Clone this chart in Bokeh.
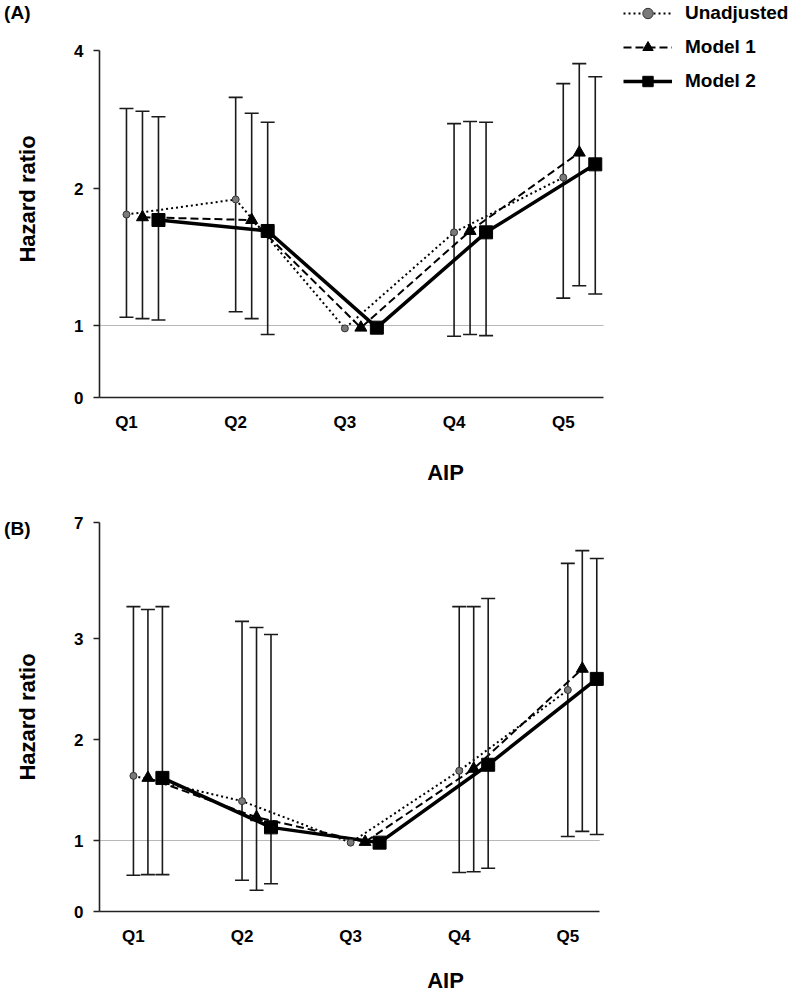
import numpy as np
from bokeh.plotting import figure
from bokeh.models import (Range1d, FixedTicker, Legend, LegendItem, LinearAxis)
from bokeh.layouts import column
from bokeh.embed import file_html
from bokeh.resources import INLINE

# ---------------- data ----------------
CATEGORIES = ["Q1", "Q2", "Q3", "Q4", "Q5"]
SERIES = ["Unadjusted", "Model 1", "Model 2"]
NA = float("nan")

# Panel (A)
A_TICKS = [0, 1, 2, 4]
A_UNADJ_HR = [1.81, 1.92, 0.96, 1.68, 2.16]
A_UNADJ_LO = [1.06, 1.10, NA, 0.85, 1.20]
A_UNADJ_HI = [3.16, 3.32, NA, 2.94, 3.52]
A_M1_HR = [1.79, 1.77, 0.97, 1.69, 2.52]
A_M1_LO = [1.05, 1.05, NA, 0.875, 1.29]
A_M1_HI = [3.12, 3.09, NA, 2.97, 3.81]
A_M2_HR = [1.77, 1.69, 0.97, 1.68, 2.35]
A_M2_LO = [1.04, 0.875, NA, 0.86, 1.23]
A_M2_HI = [3.04, 2.96, NA, 2.96, 3.62]

# Panel (B)
B_TICKS = [0, 1, 2, 3, 7]
B_UNADJ_HR = [1.64, 1.39, 0.97, 1.69, 2.49]
B_UNADJ_LO = [0.51, 0.44, NA, 0.55, 1.04]
B_UNADJ_HI = [4.10, 3.59, NA, 4.10, 5.59]
B_M1_HR = [1.62, 1.23, 0.98, 1.71, 2.70]
B_M1_LO = [0.52, 0.30, NA, 0.56, 1.09]
B_M1_HI = [4.00, 3.38, NA, 4.10, 6.03]
B_M2_HR = [1.62, 1.13, 0.97, 1.75, 2.60]
B_M2_LO = [0.52, 0.39, NA, 0.61, 1.06]
B_M2_HI = [4.10, 3.14, NA, 4.38, 5.76]

# ------------- axis scale geometry (non-uniform tick spacing, px from axis bottom) -------------
A_TICK_PX = [0, 72, 209, 347]
B_TICK_PX = [0, 71, 172, 273, 389]

FONT = "Liberation Sans"
W = 791

STYLES = [
    dict(marker="circle", size=7, fill="#7a7a7a", line="#333333", dash="2 3", lw=2.0),
    dict(marker="triangle", size=12, fill="black", line="black", dash="8 4", lw=2.0),
    dict(marker="square", size=13, fill="black", line="black", dash="solid", lw=3.5),
]


def make_panel(tag, ticks, tick_px, series, x_start, x_axis_end, group_px, offset,
               height, mbl, mbt, frame_h, tag_y, aip_standoff, legend_loc=None):
    frame_w = W - mbl
    x_end = x_start + frame_w / group_px
    mbb = height - mbt - frame_h
    p = figure(width=W, height=height, output_backend="svg", toolbar_location=None,
               x_range=Range1d(x_start, x_end), y_range=Range1d(0, frame_h),
               min_border_left=mbl, min_border_right=0,
               min_border_top=mbt, min_border_bottom=mbb)
    p.grid.visible = False
    p.outline_line_color = None

    def tr(vals):
        return [float(np.interp(v, ticks, tick_px)) if not np.isnan(v) else NA for v in vals]

    # reference line at HR = 1, spanning the drawn x axis
    y_one = float(np.interp(1, ticks, tick_px))
    p.segment(x0=[x_start], x1=[x_axis_end], y0=[y_one], y1=[y_one],
              line_color="#b8b8b8", line_width=1)

    line_rs = []
    for k, (hr, lo, hi) in enumerate(series):
        st = STYLES[k]
        xs = [i + k * offset for i in range(len(CATEGORIES))]
        ylo, yhi, yhr = tr(lo), tr(hi), tr(hr)
        ex = [x for x, a in zip(xs, ylo) if not np.isnan(a)]
        elo = [a for a in ylo if not np.isnan(a)]
        ehi = [a for a in yhi if not np.isnan(a)]
        p.segment(x0=ex, y0=elo, x1=ex, y1=ehi, line_color="#1a1a1a", line_width=1.6)
        p.scatter(x=ex, y=elo, marker="dash", size=14, line_color="#1a1a1a", line_width=1.6)
        p.scatter(x=ex, y=ehi, marker="dash", size=14, line_color="#1a1a1a", line_width=1.6)
        lr = p.line(x=xs, y=yhr, line_color="black", line_width=st["lw"], line_dash=st["dash"])
        line_rs.append((lr, xs, yhr))
    items = []
    for k, name in enumerate(SERIES):
        st = STYLES[k]
        lr, xs, yhr = line_rs[k]
        mr = p.scatter(x=xs, y=yhr, marker=st["marker"], size=st["size"],
                       fill_color=st["fill"], line_color=st["line"], line_width=1)
        items.append(LegendItem(label=name, renderers=[lr, mr]))

    # x axis
    xa = p.xaxis[0]
    xa.bounds = (x_start, x_axis_end)
    xa.ticker = FixedTicker(ticks=list(range(len(CATEGORIES))))
    xa.major_label_overrides = {i: c for i, c in enumerate(CATEGORIES)}
    xa.major_tick_line_color = None
    xa.major_tick_out = 0
    xa.minor_tick_line_color = None
    xa.major_label_standoff = 15
    xa.axis_line_width = 1.6
    xa.axis_line_color = "#222222"
    xa.axis_label = "AIP"
    xa.axis_label_standoff = aip_standoff

    # y axis
    ya = p.yaxis[0]
    ya.bounds = (0, tick_px[-1])
    ya.ticker = FixedTicker(ticks=list(tick_px))
    ya.major_label_overrides = {px: str(v) for px, v in zip(tick_px, ticks)}
    ya.major_tick_out = 6
    ya.major_tick_in = 0
    ya.minor_tick_line_color = None
    ya.major_tick_line_width = 1.6
    ya.major_label_standoff = 10
    ya.axis_line_width = 1.6
    ya.axis_line_color = "#222222"
    ya.major_tick_line_color = "#222222"
    ya.axis_label = "Hazard ratio"
    ya.axis_label_standoff = 31

    for ax in (xa, ya):
        ax.major_label_text_font = FONT
        ax.major_label_text_font_style = "bold"
        ax.major_label_text_font_size = "17px"
        ax.major_label_text_color = "black"
        ax.axis_label_text_font = FONT
        ax.axis_label_text_font_style = "bold"
        ax.axis_label_text_font_size = "22px"
        ax.axis_label_text_color = "black"

    # panel tag "(A)" / "(B)" placed in the left border through an extra label-only axis
    tag_axis = LinearAxis(ticker=FixedTicker(ticks=[tag_y]),
                          major_label_overrides={tag_y: tag},
                          axis_line_color=None, major_tick_line_color=None,
                          minor_tick_line_color=None, major_tick_out=0, major_tick_in=0,
                          major_label_standoff=-18,
                          major_label_text_font=FONT, major_label_text_font_style="bold",
                          major_label_text_font_size="19px", major_label_text_color="black")
    p.add_layout(tag_axis, "left")

    if legend_loc is not None:
        leg = Legend(items=items, location=legend_loc, orientation="vertical",
                     glyph_width=49, glyph_height=26, label_height=26, spacing=8,
                     label_standoff=13, padding=0, margin=0,
                     border_line_color=None, background_fill_alpha=0,
                     label_text_font=FONT, label_text_font_style="bold",
                     label_text_font_size="19px", label_text_color="black")
        p.add_layout(leg)
    return p


A_SERIES = [(A_UNADJ_HR, A_UNADJ_LO, A_UNADJ_HI),
            (A_M1_HR, A_M1_LO, A_M1_HI),
            (A_M2_HR, A_M2_LO, A_M2_HI)]
B_SERIES = [(B_UNADJ_HR, B_UNADJ_LO, B_UNADJ_HI),
            (B_M1_HR, B_M1_LO, B_M1_HI),
            (B_M2_HR, B_M2_LO, B_M2_HI)]

pA = make_panel("(A)", A_TICKS, A_TICK_PX, A_SERIES,
                x_start=-0.247, x_axis_end=4.368, group_px=109.2, offset=16 / 109.2,
                height=488, mbl=99, mbt=0, frame_h=397, tag_y=385, aip_standoff=25,
                legend_loc=(524, 303))
pB = make_panel("(B)", B_TICKS, B_TICK_PX, B_SERIES,
                x_start=-0.3126, x_axis_end=4.294, group_px=108.75, offset=14.5 / 108.75,
                height=507, mbl=98, mbt=34, frame_h=389, tag_y=383, aip_standoff=19)

layout = column(pA, pB, spacing=0)
open("out.html", "w").write(file_html(layout, INLINE))
